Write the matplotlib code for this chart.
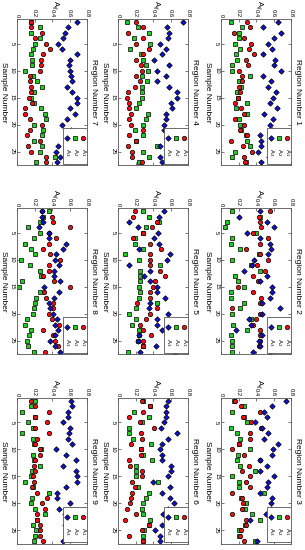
import numpy as np
import matplotlib
matplotlib.use("Agg")
import matplotlib.pyplot as plt
from matplotlib.patches import Rectangle

plt.rcParams['font.family'] = ['Liberation Sans', 'DejaVu Sans']

samples = np.arange(1, 28)
regions = [1, 2, 3, 4, 5, 6, 7, 8, 9]

# A1 (red), A2 (green), A3 (blue) for each region
a1_r1 = [0.30, 0.33, 0.15, 0.26, 0.34, 0.32, 0.38, 0.28, 0.31, 0.21, 0.24, 0.24, 0.21, 0.22, 0.19, 0.16, 0.23, 0.26, 0.16, 0.26, 0.22, 0.30, 0.11, 0.25, 0.35, 0.26, 0.27]
a2_r1 = [0.11, 0.24, 0.21, 0.21, 0.16, 0.22, 0.17, 0.18, 0.13, 0.13, 0.33, 0.21, 0.23, 0.18, 0.19, 0.30, 0.17, 0.30, 0.21, 0.22, 0.23, 0.28, 0.30, 0.33, 0.16, 0.13, 0.29]
a3_r1 = [0.65, 0.48, 0.69, 0.61, 0.54, 0.58, 0.48, 0.62, 0.61, 0.68, 0.48, 0.57, 0.54, 0.63, 0.59, 0.56, 0.64, 0.49, 0.59, 0.56, 0.58, 0.45, 0.46, 0.46, 0.42, 0.55, 0.46]

a1_r2 = [0.56, 0.43, 0.45, 0.46, 0.37, 0.54, 0.45, 0.28, 0.45, 0.54, 0.41, 0.50, 0.37, 0.42, 0.19, 0.37, 0.46, 0.44, 0.13, 0.45, 0.40, 0.37, 0.45, 0.44, 0.45, 0.43, 0.56]
a2_r2 = [0.13, 0.44, 0.07, 0.05, 0.40, 0.13, 0.11, 0.22, 0.43, 0.13, 0.34, 0.44, 0.16, 0.19, 0.26, 0.11, 0.11, 0.26, 0.22, 0.13, 0.34, 0.14, 0.30, 0.11, 0.12, 0.13, 0.12]
a3_r2 = [0.44, 0.21, 0.53, 0.60, 0.30, 0.44, 0.56, 0.57, 0.54, 0.38, 0.35, 0.26, 0.53, 0.45, 0.58, 0.58, 0.56, 0.47, 0.67, 0.47, 0.32, 0.34, 0.17, 0.47, 0.43, 0.45, 0.37]

a1_r3 = [0.16, 0.23, 0.44, 0.25, 0.34, 0.46, 0.33, 0.33, 0.21, 0.13, 0.26, 0.44, 0.32, 0.24, 0.33, 0.29, 0.33, 0.13, 0.24, 0.25, 0.24, 0.13, 0.28, 0.29, 0.23, 0.22, 0.26]
a2_r3 = [0.15, 0.26, 0.13, 0.26, 0.30, 0.11, 0.18, 0.22, 0.21, 0.33, 0.19, 0.18, 0.22, 0.39, 0.13, 0.21, 0.21, 0.49, 0.23, 0.28, 0.27, 0.35, 0.44, 0.27, 0.21, 0.20, 0.39]
a3_r3 = [0.74, 0.58, 0.49, 0.53, 0.39, 0.47, 0.54, 0.49, 0.65, 0.59, 0.58, 0.44, 0.53, 0.45, 0.61, 0.54, 0.53, 0.44, 0.58, 0.57, 0.57, 0.51, 0.33, 0.60, 0.62, 0.60, 0.41]

a1_r4 = [0.20, 0.28, 0.11, 0.29, 0.21, 0.35, 0.29, 0.20, 0.26, 0.27, 0.20, 0.25, 0.19, 0.11, 0.10, 0.13, 0.12, 0.15, 0.13, 0.15, 0.28, 0.13, 0.21, 0.11, 0.16, 0.16, 0.27]
a2_r4 = [0.10, 0.23, 0.35, 0.18, 0.36, 0.14, 0.26, 0.29, 0.32, 0.34, 0.27, 0.33, 0.27, 0.27, 0.27, 0.24, 0.21, 0.34, 0.32, 0.28, 0.19, 0.28, 0.21, 0.44, 0.28, 0.35, 0.24]
a3_r4 = [0.74, 0.56, 0.58, 0.57, 0.48, 0.55, 0.50, 0.41, 0.58, 0.45, 0.55, 0.44, 0.58, 0.67, 0.67, 0.61, 0.62, 0.55, 0.55, 0.52, 0.53, 0.60, 0.62, 0.48, 0.57, 0.48, 0.50]

a1_r5 = [0.19, 0.17, 0.44, 0.39, 0.29, 0.17, 0.36, 0.49, 0.36, 0.36, 0.36, 0.48, 0.54, 0.42, 0.40, 0.36, 0.36, 0.22, 0.44, 0.36, 0.32, 0.25, 0.29, 0.38, 0.29, 0.29, 0.65]
a2_r5 = [0.29, 0.35, 0.47, 0.32, 0.28, 0.19, 0.19, 0.29, 0.08, 0.24, 0.48, 0.25, 0.25, 0.25, 0.24, 0.25, 0.24, 0.44, 0.21, 0.13, 0.20, 0.16, 0.24, 0.24, 0.23, 0.28, 0.11]
a3_r5 = [0.53, 0.47, 0.13, 0.23, 0.46, 0.41, 0.47, 0.24, 0.59, 0.56, 0.13, 0.36, 0.30, 0.36, 0.45, 0.45, 0.54, 0.36, 0.35, 0.57, 0.44, 0.44, 0.50, 0.24, 0.23, 0.43, 0.25]

a1_r6 = [0.27, 0.36, 0.29, 0.13, 0.25, 0.41, 0.26, 0.27, 0.15, 0.26, 0.26, 0.13, 0.14, 0.27, 0.27, 0.16, 0.19, 0.16, 0.15, 0.14, 0.10, 0.21, 0.08, 0.35, 0.27, 0.13, 0.29]
a2_r6 = [0.29, 0.37, 0.18, 0.35, 0.27, 0.13, 0.13, 0.17, 0.38, 0.26, 0.29, 0.39, 0.21, 0.21, 0.21, 0.46, 0.23, 0.35, 0.32, 0.28, 0.27, 0.28, 0.36, 0.35, 0.30, 0.29, 0.28]
a3_r6 = [0.57, 0.55, 0.55, 0.55, 0.53, 0.49, 0.67, 0.57, 0.50, 0.48, 0.50, 0.50, 0.60, 0.60, 0.57, 0.40, 0.59, 0.50, 0.59, 0.64, 0.57, 0.51, 0.60, 0.50, 0.42, 0.48, 0.48]

a1_r7 = [0.16, 0.16, 0.29, 0.21, 0.33, 0.38, 0.30, 0.27, 0.27, 0.26, 0.15, 0.15, 0.16, 0.16, 0.14, 0.17, 0.09, 0.09, 0.15, 0.28, 0.15, 0.11, 0.26, 0.13, 0.16, 0.33, 0.33]
a2_r7 = [0.16, 0.26, 0.16, 0.26, 0.21, 0.18, 0.16, 0.17, 0.17, 0.09, 0.18, 0.23, 0.28, 0.19, 0.16, 0.19, 0.27, 0.32, 0.33, 0.19, 0.30, 0.29, 0.19, 0.29, 0.26, 0.43, 0.22]
a3_r7 = [0.68, 0.58, 0.55, 0.53, 0.47, 0.51, 0.68, 0.60, 0.59, 0.61, 0.62, 0.63, 0.57, 0.63, 0.68, 0.68, 0.60, 0.66, 0.57, 0.51, 0.62, 0.60, 0.62, 0.47, 0.45, 0.49, 0.46]

a1_r8 = [0.28, 0.40, 0.41, 0.60, 0.37, 0.45, 0.36, 0.30, 0.38, 0.49, 0.36, 0.36, 0.30, 0.42, 0.60, 0.31, 0.33, 0.41, 0.41, 0.37, 0.40, 0.48, 0.30, 0.41, 0.43, 0.47, 0.32]
a2_r8 = [0.37, 0.30, 0.26, 0.13, 0.26, 0.19, 0.09, 0.16, 0.21, 0.05, 0.15, 0.26, 0.27, 0.06, 0.02, 0.26, 0.22, 0.21, 0.19, 0.18, 0.11, 0.09, 0.16, 0.14, 0.11, 0.12, 0.19]
a3_r8 = [0.28, 0.28, 0.30, 0.25, 0.37, 0.36, 0.56, 0.53, 0.45, 0.43, 0.48, 0.42, 0.42, 0.49, 0.31, 0.48, 0.42, 0.37, 0.38, 0.41, 0.46, 0.43, 0.47, 0.43, 0.38, 0.43, 0.49]

a1_r9 = [0.16, 0.20, 0.37, 0.21, 0.34, 0.21, 0.36, 0.23, 0.21, 0.26, 0.26, 0.21, 0.19, 0.20, 0.18, 0.19, 0.17, 0.23, 0.34, 0.29, 0.32, 0.23, 0.23, 0.26, 0.26, 0.26, 0.30]
a2_r9 = [0.21, 0.16, 0.06, 0.21, 0.13, 0.18, 0.06, 0.18, 0.19, 0.27, 0.18, 0.19, 0.26, 0.17, 0.16, 0.09, 0.18, 0.37, 0.17, 0.16, 0.21, 0.32, 0.23, 0.18, 0.22, 0.21, 0.19]
a3_r9 = [0.62, 0.63, 0.58, 0.58, 0.53, 0.61, 0.59, 0.58, 0.63, 0.45, 0.56, 0.67, 0.53, 0.67, 0.68, 0.69, 0.56, 0.46, 0.46, 0.60, 0.48, 0.55, 0.58, 0.55, 0.57, 0.56, 0.53]

a1_all = [a1_r1, a1_r2, a1_r3, a1_r4, a1_r5, a1_r6, a1_r7, a1_r8, a1_r9]
a2_all = [a2_r1, a2_r2, a2_r3, a2_r4, a2_r5, a2_r6, a2_r7, a2_r8, a2_r9]
a3_all = [a3_r1, a3_r2, a3_r3, a3_r4, a3_r5, a3_r6, a3_r7, a3_r8, a3_r9]

red = '#ee1111'
green = '#22cc22'
blue = '#1111cc'

fig = plt.figure(figsize=(3.05, 5.5), dpi=100)

# the figure is drawn turned a quarter turn clockwise
col_left = [0.725, 0.387, 0.056]
row_bottom = [0.700, 0.356, 0.011]
w = 0.2295
h = 0.265

for i, reg in enumerate(regions):
    col = i // 3
    row = i % 3
    ax = fig.add_axes([col_left[col], row_bottom[row], w, h])
    kw = dict(linestyle='none', markeredgecolor='black', markeredgewidth=0.5)
    ax.plot(a2_all[i], samples, marker='s', markersize=2.9, markerfacecolor=green, **kw)
    ax.plot(a1_all[i], samples, marker='o', markersize=3.2, markerfacecolor=red, **kw)
    ax.plot(a3_all[i], samples, marker='D', markersize=2.8, markerfacecolor=blue, **kw)

    ax.set_xlim(0, 0.8)
    ax.set_ylim(27.5, 0.5)
    ax.set_xticks([0, 0.2, 0.4, 0.6, 0.8])
    ax.set_xticklabels(['0', '0.2', '0.4', '0.6', '0.8'], rotation=-90, va='bottom', ha='center')
    ax.set_yticks([5, 10, 15, 20, 25])
    ax.set_yticklabels(['5', '10', '15', '20', '25'], rotation=-90, va='center', ha='right')
    ax.xaxis.tick_top()
    ax.tick_params(direction='in', length=2, width=0.5, labelsize=4.2, pad=1.5,
                   color='#444444', top=True, bottom=True, left=True, right=True)
    ax.tick_params(axis='x', labelbottom=False, labeltop=True)

    # axis labels and title placed by hand, all turned with the figure
    ax.text(0.53, 1.10, 'A$_{ij}$', rotation=-90, transform=ax.transAxes,
            ha='center', va='center', fontsize=5.5)
    ax.text(-0.19, 0.5, 'Sample Number', rotation=-90, transform=ax.transAxes,
            ha='center', va='center', fontsize=6)
    ax.text(1.09, 0.5, 'Region Number %d' % reg, rotation=-90, transform=ax.transAxes,
            ha='center', va='center', fontsize=6)
    for s in ax.spines.values():
        s.set_color('#555555')
        s.set_linewidth(0.6)

    # legend box, lower right
    ax.add_patch(Rectangle((0.655, 0.01), 0.34, 0.245, transform=ax.transAxes,
                           facecolor='white', edgecolor='#555555', linewidth=0.6, zorder=5))
    ax.plot([0.714], [0.184], marker='D', markersize=2.8, markerfacecolor=blue,
            transform=ax.transAxes, zorder=6, clip_on=False, **kw)
    ax.plot([0.829], [0.184], marker='s', markersize=2.9, markerfacecolor=green,
            transform=ax.transAxes, zorder=6, clip_on=False, **kw)
    ax.plot([0.943], [0.184], marker='o', markersize=3.2, markerfacecolor=red,
            transform=ax.transAxes, zorder=6, clip_on=False, **kw)
    for xx, lab in [(0.714, 'A$_3$'), (0.829, 'A$_2$'), (0.943, 'A$_1$')]:
        ax.text(xx, 0.085, lab, rotation=-90, transform=ax.transAxes,
                ha='center', va='center', fontsize=4.3, zorder=6)

fig.savefig('out.png', dpi=100)
